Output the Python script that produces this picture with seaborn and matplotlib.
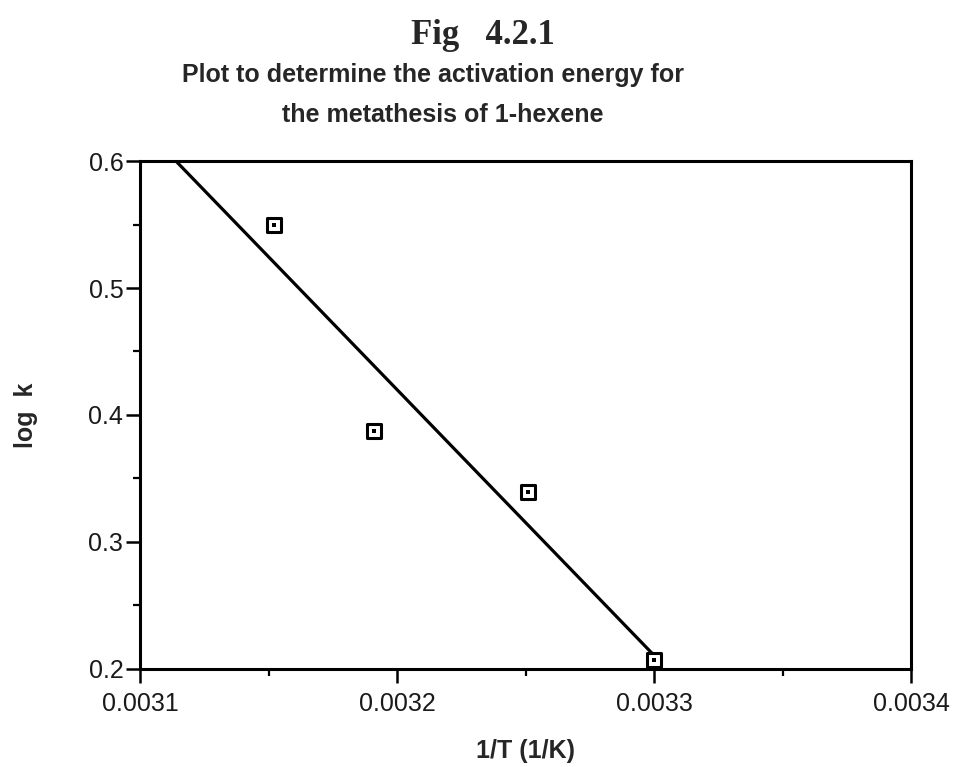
import numpy as np
import pandas as pd
import seaborn as sns
import matplotlib.pyplot as plt
from matplotlib.ticker import MultipleLocator

# data
inv_T = [0.003152, 0.003191, 0.003251, 0.003300]
log_k = [0.550, 0.387, 0.339, 0.207]
x_ticks = [0.0031, 0.0032, 0.0033, 0.0034]
y_ticks = [0.2, 0.3, 0.4, 0.5, 0.6]

df = pd.DataFrame({"inv_T": inv_T, "log_k": log_k})

sns.set_style("ticks")
plt.rcParams["font.family"] = ["Liberation Sans", "DejaVu Sans"]

fig = plt.figure(figsize=(9.59, 7.67), dpi=100)
ax = fig.add_axes([0.146, 0.128, 0.804, 0.662])

# least squares line, drawn from the left edge to the last point
slope, icpt = np.polyfit(df["inv_T"], df["log_k"], 1)
fit_x = np.array([x_ticks[0], df["inv_T"].max()])
fit = pd.DataFrame({"x": fit_x, "y": slope * fit_x + icpt})
sns.lineplot(data=fit, x="x", y="y", ax=ax, color="black", linewidth=2.3)

sns.scatterplot(data=df, x="inv_T", y="log_k", ax=ax, marker="s", s=100,
                facecolor="white", edgecolor="black", linewidth=2.2, zorder=3)
sns.scatterplot(data=df, x="inv_T", y="log_k", ax=ax, marker="s", s=6,
                color="black", linewidth=0, zorder=4)

ax.set_xlim(x_ticks[0], x_ticks[-1])
ax.set_ylim(y_ticks[0], y_ticks[-1])
ax.set_xticks(x_ticks)
ax.set_yticks(y_ticks)
ax.set_xticklabels([f"{v:.4f}" for v in x_ticks])
ax.set_yticklabels([f"{v:.1f}" for v in y_ticks])
ax.xaxis.set_minor_locator(MultipleLocator(0.00005))
ax.yaxis.set_minor_locator(MultipleLocator(0.05))
ax.tick_params(which="major", direction="out", length=10, width=1.8,
               labelsize=18, color="black", labelcolor="#1a1a1a")
ax.tick_params(which="minor", direction="out", length=5, width=1.6, color="black")
ax.tick_params(axis="x", pad=7)
ax.tick_params(axis="y", pad=2)
for sp in ax.spines.values():
    sp.set_linewidth(2.2)
    sp.set_color("black")

ax.set_xlabel("1/T (1/K)", fontsize=18, fontweight="bold", labelpad=16)
ax.set_ylabel("log  k", fontsize=18, fontweight="bold", labelpad=36)

fig.text(0.503, 0.954, "Fig   4.2.1", ha="center", va="center",
         fontsize=25, fontweight="bold", family=["Liberation Serif", "DejaVu Serif"])
fig.text(0.452, 0.902, "Plot to determine the activation energy for",
         ha="center", va="center", fontsize=18, fontweight="bold")
fig.text(0.462, 0.850, "the metathesis of 1-hexene",
         ha="center", va="center", fontsize=18, fontweight="bold")

fig.savefig("out.png", dpi=100)
